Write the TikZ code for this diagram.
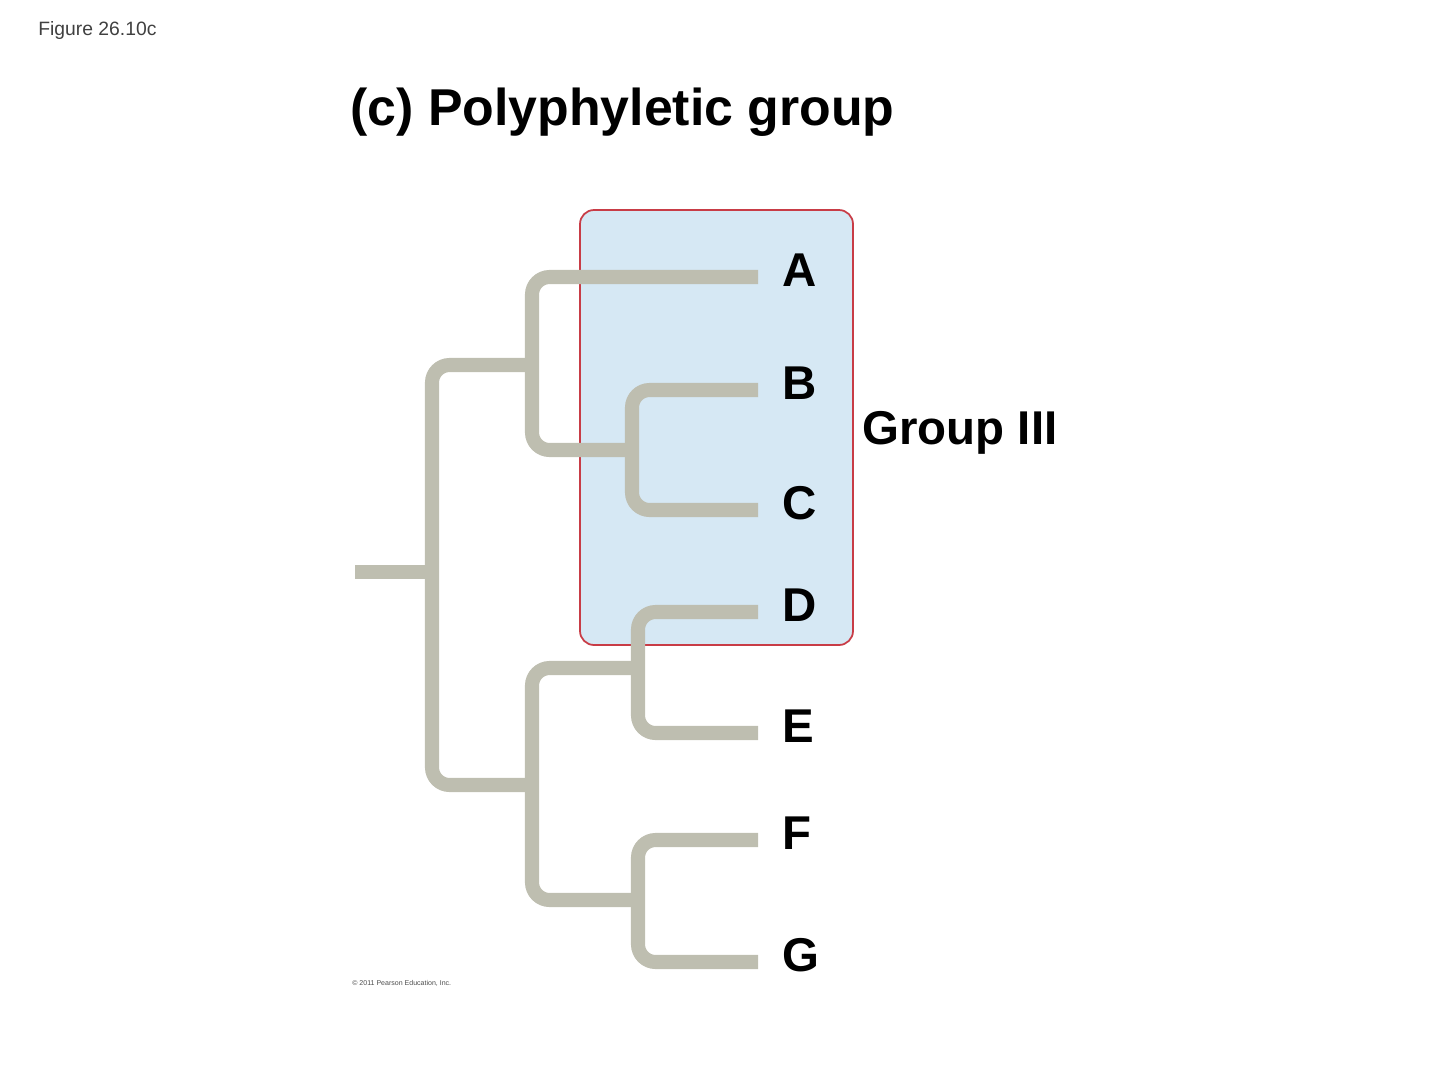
\documentclass[tikz,border=0pt]{standalone}
\usepackage{fontspec}
\setmainfont{Liberation Sans}
\usetikzlibrary{positioning}
\definecolor{branchgray}{RGB}{190,190,176}
\definecolor{boxred}{RGB}{200,60,70}
\definecolor{boxblue}{RGB}{214,232,244}
\tikzset{branch/.style={line width=8pt, draw=branchgray, rounded corners=10pt},
  leaf/.style={anchor=west, font=\fontsize{27}{30}\selectfont\bfseries, inner sep=0pt}}
\begin{document}
\begin{tikzpicture}[x=0.02cm, y=-0.02cm]
  \useasboundingbox (0,0) rectangle (1440,1082);
  % the group box
  \draw[boxred, fill=boxblue, line width=1pt, rounded corners=8pt] (580,210) rectangle (853,645);
  % nodes of the tree
  \coordinate (root) at (355,572);
  \coordinate (n1) at (432,572);
  \coordinate (n2) at (532,365);
  \coordinate (n3) at (632,450);
  \coordinate (n4) at (532,785);
  \coordinate (n5) at (638,668);
  \coordinate (n6) at (638,900);
  \coordinate (tA) at (758,277);
  \coordinate (tB) at (758,390);
  \coordinate (tC) at (758,510);
  \coordinate (tD) at (758,612);
  \coordinate (tE) at (758,733);
  \coordinate (tF) at (758,840);
  \coordinate (tG) at (758,962);
  \draw[branch, rounded corners=0pt] (root) -- (n1);
  \draw[branch] (n2) -| (n1) |- (n4);
  \draw[branch] (tA) -| (n2) |- (n3);
  \draw[branch] (tB) -| (n3) |- (tC);
  \draw[branch] (n5) -| (n4) |- (n6);
  \draw[branch] (tD) -| (n5) |- (tE);
  \draw[branch] (tF) -| (n6) |- (tG);
  % labels
  \foreach \t in {A,B,C,D,E,F,G}
    \node[leaf] (l\t) at ([xshift=14, yshift=4]t\t) {\t};
  \node[anchor=west, font=\fontsize{27}{30}\selectfont\bfseries, inner sep=0pt] (group) at (862,433) {Group III};
  \node[anchor=west, font=\fontsize{29.5}{32}\selectfont\bfseries, inner sep=0pt] (title) at (350,112) {(c) Polyphyletic group};
  \node[anchor=west, font=\fontsize{11}{12}\selectfont, text=black!75, inner sep=0pt] (fig) at (38,31) {Figure 26.10c};
  \node[anchor=west, font=\fontsize{4}{5}\selectfont, text=black!70, inner sep=0pt] (copy) at (352,983) {© 2011 Pearson Education, Inc.};
\end{tikzpicture}
\end{document}
